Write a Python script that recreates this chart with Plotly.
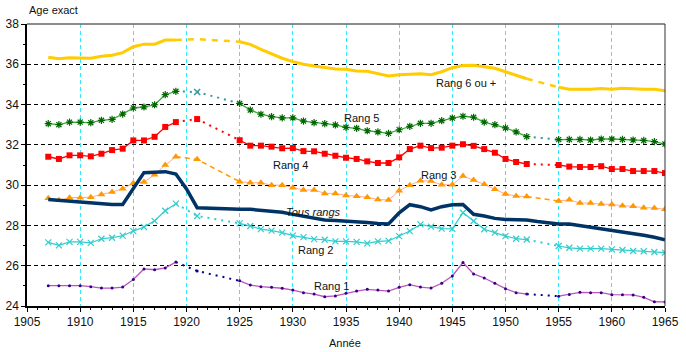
import plotly.graph_objects as go

years = list(range(1907, 1966))

rang6 = [36.35, 36.28, 36.33, 36.3, 36.3, 36.4, 36.45, 36.58, 36.87, 37.0, 37.0, 37.2, 37.2,
         None, 37.25, None, None, None,
         37.12, 36.99, 36.74, 36.5, 36.3, 36.13, 36.0, 35.91, 35.83, 35.77, 35.75, 35.67, 35.65, 35.55, 35.42,
         35.48, 35.5, 35.53, 35.48, 35.63, 35.83, 35.94, 35.95, 35.88, 35.8, 35.63, 35.47, 35.28,
         None, None,
         34.86, 34.76, 34.76, 34.76, 34.8, 34.76, 34.81, 34.78, 34.76, 34.76, 34.69]

rang5 = [33.05, 33.0, 33.13, 33.13, 33.1, 33.22, 33.27, 33.53, 33.83, 33.88, 33.99, 34.49, 34.66,
         None, 34.62, None, None, None,
         34.06, 33.73, 33.52, 33.4, 33.34, 33.34, 33.18, 33.1, 33.05, 32.99, 32.87, 32.82, 32.7, 32.64, 32.57,
         32.75, 32.92, 33.07, 33.07, 33.2, 33.33, 33.42, 33.37, 33.13, 33.0, 32.84, 32.64, 32.41,
         None, None,
         32.26, 32.27, 32.27, 32.24, 32.29, 32.29, 32.27, 32.24, 32.22, 32.16, 32.04]

rang4 = [31.41, 31.3, 31.48, 31.48, 31.43, 31.56, 31.74, 31.81, 32.22, 32.22, 32.4, 32.89, 33.13,
         None, 33.28, None, None, None,
         32.23, 31.96, 31.96, 31.91, 31.83, 31.84, 31.69, 31.68, 31.56, 31.46, 31.36, 31.3, 31.18, 31.1, 31.1,
         31.38, 31.79, 31.96, 31.84, 31.86, 31.96, 32.03, 31.95, 31.79, 31.61, 31.3, 31.15, 31.05,
         None, None,
         31.0, 30.92, 30.9, 30.9, 30.94, 30.8, 30.8, 30.7, 30.7, 30.7, 30.6]

rang3 = [29.35, 29.25, 29.38, 29.38, 29.4, 29.54, 29.66, 29.82, 30.1, 30.15, 30.52, 31.0, 31.41,
         None, 31.28, None, None, None,
         30.17, 30.12, 30.12, 30.0, 30.0, 29.87, 29.76, 29.76, 29.59, 29.59, 29.49, 29.45, 29.4, 29.29, 29.26,
         29.72, 30.0, 30.22, 30.2, 30.02, 30.02, 30.45, 30.25, 30.04, 29.79, 29.56, 29.46, 29.43,
         None, None,
         29.21, 29.27, 29.11, 29.11, 29.06, 29.04, 28.98, 28.95, 28.88, 28.87, 28.8]

tous = [29.29, 29.25, 29.21, 29.16, 29.11, 29.08, 29.04, 29.04, 29.84, 30.62, 30.64, 30.67, 30.55,
        29.81, 28.88, 28.85, 28.84, 28.83,
        28.8, 28.8, 28.75, 28.7, 28.65, 28.55, 28.47, 28.38, 28.27, 28.24, 28.22, 28.18, 28.15, 28.1, 28.07,
        28.63, 29.03, 28.93, 28.77, 28.93, 29.03, 29.04, 28.55, 28.47, 28.35, 28.3, 28.27, 28.27,
        28.19, 28.14,
        28.07, 28.07, 27.99, 27.94, 27.87, 27.77, 27.67, 27.6, 27.51, 27.41, 27.29]

rang2 = [27.16, 27.01, 27.18, 27.18, 27.13, 27.34, 27.39, 27.49, 27.72, 27.92, 28.23, 28.73, 29.08,
         None, 28.47, None, None, None,
         28.1, 27.97, 27.82, 27.74, 27.64, 27.49, 27.42, 27.32, 27.29, 27.21, 27.21, 27.18, 27.11, 27.21, 27.23,
         27.47, 27.72, 28.05, 27.94, 27.84, 27.83, 28.63, 28.22, 27.81, 27.64, 27.47, 27.34, 27.3,
         None, None,
         26.98, 26.89, 26.85, 26.85, 26.85, 26.81, 26.78, 26.73, 26.72, 26.68, 26.65]

rang1 = [25.01, 25.01, 25.01, 25.01, 24.96, 24.89, 24.89, 24.94, 25.32, 25.84, 25.8, 25.89, 26.18,
         None, 25.74, None, None, None,
         25.25, 25.04, 24.96, 24.93, 24.88, 24.79, 24.66, 24.59, 24.46, 24.5, 24.63, 24.74, 24.83, 24.79, 24.74,
         24.93, 25.06, 24.94, 24.89, 25.13, 25.49, 26.16, 25.59, 25.39, 25.13, 24.86, 24.66, 24.59,
         None, None,
         24.49, 24.57, 24.68, 24.66, 24.66, 24.56, 24.56, 24.55, 24.43, 24.21, 24.2]

# spans of years drawn with a broken line (missing data)
spans = [(1919, 1925), (1952, 1955)]

x_ticks = list(range(1905, 1966, 5))
y_ticks = list(range(24, 39, 2))

FONT = "Liberation Sans, Arial, sans-serif"


def split(vals):
    solid, inner = [], []
    for y, v in zip(years, vals):
        in_inner = any(a < y < b for a, b in spans)
        solid.append(None if in_inner else v)
        inner.append(v if in_inner else None)
    bx, by = [], []
    for a, b in spans:
        for y, v in zip(years, vals):
            if a <= y <= b and v is not None:
                bx.append(y)
                by.append(v)
        bx.append(None)
        by.append(None)
    return solid, (bx, by), inner


fig = go.Figure()


def add_series(vals, name, color, width, bcolor, bdash, bwidth, marker=None, lcolor=None, imarker=None):
    solid, (bx, by), inner = split(vals)
    fig.add_trace(go.Scatter(x=bx, y=by, mode="lines", name=name + " (gap)",
                             line=dict(color=bcolor, width=bwidth, dash=bdash),
                             connectgaps=False, showlegend=False, hoverinfo="skip"))
    if imarker is not None:
        fig.add_trace(go.Scatter(x=years, y=inner, mode="markers", marker=imarker,
                                 showlegend=False, hoverinfo="skip"))
    fig.add_trace(go.Scatter(x=years, y=solid, mode="lines+markers" if marker else "lines", name=name,
                             line=dict(color=lcolor or color, width=width),
                             marker=marker, connectgaps=False, showlegend=False))


add_series(rang6, "Rang 6 ou +", "#FFCC00", 3, "#FFCC00", "6px,6px", 2.5)
add_series(rang5, "Rang 5", "#33AA33", 1.3, "#339999", "2px,5px", 2,
           marker=dict(symbol="asterisk-open", size=6, color="#006600", line=dict(color="#117711", width=1.2)),
           imarker=dict(symbol="x-thin-open", size=6, color="#339999", line=dict(color="#339999", width=1.5)))
add_series(rang4, "Rang 4", "#FF0000", 1.3, "#FF0000", "2px,5px", 2,
           marker=dict(symbol="square", size=6, color="#FF0000"),
           imarker=dict(symbol="square", size=6, color="#FF0000"))
add_series(rang3, "Rang 3", "#FF9900", 1, "#FF9900", "5px,4px", 1.5,
           marker=dict(symbol="triangle-up", size=7, color="#FF9900"), lcolor="#FFAA99",
           imarker=dict(symbol="triangle-up", size=7, color="#FF9900"))
fig.add_trace(go.Scatter(x=years, y=tous, mode="lines", name="Tous rangs",
                         line=dict(color="#003366", width=3.5), showlegend=False))
add_series(rang2, "Rang 2", "#33CCCC", 1.2, "#33CCCC", "2px,5px", 2,
           marker=dict(symbol="x-thin-open", size=6, color="#33CCCC", line=dict(color="#33CCCC", width=1.2)),
           imarker=dict(symbol="x-thin-open", size=6, color="#33CCCC", line=dict(color="#33CCCC", width=1.2)))
add_series(rang1, "Rang 1", "#BB55BB", 1.3, "#000099", "2px,5px", 2,
           marker=dict(symbol="circle", size=3, color="#330088"),
           imarker=dict(symbol="circle", size=3, color="#000099"))

labels = [
    ("Rang 6 ou +", 1946.3, 35.07, False),
    ("Rang 5", 1936.5, 33.33, False),
    ("Rang 4", 1929.8, 31.0, False),
    ("Rang 3", 1943.7, 30.5, False),
    ("Tous rangs", 1931.9, 28.67, True),
    ("Rang 2", 1932.1, 26.78, False),
    ("Rang 1", 1933.6, 24.99, False),
]
for txt, lx, ly, it in labels:
    fig.add_annotation(x=lx, y=ly, text=f"<i>{txt}</i>" if it else txt, showarrow=False,
                       font=dict(family=FONT, size=11, color="#111111"), xanchor="center", yanchor="middle")

fig.add_annotation(xref="paper", yref="paper", x=0.0, y=1 + 14 / 282, text="Age exact", showarrow=False,
                   font=dict(family=FONT, size=11, color="#111111"), xanchor="left", yanchor="middle")
fig.add_annotation(xref="paper", yref="paper", x=(345 - 27) / 638, y=-37 / 282, text="Année", showarrow=False,
                   font=dict(family=FONT, size=11, color="#111111"), xanchor="center", yanchor="middle")

# top and right border
fig.add_shape(type="line", xref="paper", yref="paper", x0=0, x1=1, y0=1, y1=1,
              line=dict(color="#666666", width=1.5))
fig.add_shape(type="line", xref="paper", yref="paper", x0=1, x1=1, y0=0, y1=1,
              line=dict(color="#333333", width=1))

fig.update_layout(
    width=686, height=352,
    margin=dict(l=27, r=21, t=24, b=46),
    paper_bgcolor="white", plot_bgcolor="white",
    font=dict(family=FONT, size=12, color="#111111"),
    showlegend=False,
    xaxis=dict(range=[1905, 1965], tickmode="array", tickvals=x_ticks, ticktext=[str(v) for v in x_ticks],
               showline=True, linecolor="black", linewidth=1.5, ticks="outside", ticklen=4,
               tickcolor="black", showgrid=True, gridcolor="#33E8F8", griddash="4px,3px", gridwidth=1,
               zeroline=False, tickfont=dict(size=12), automargin=False,
               minor=dict(dtick=1, tick0=1905, ticks="outside", ticklen=2, tickcolor="black", showgrid=False)),
    yaxis=dict(range=[24, 38], tickmode="array", tickvals=y_ticks, ticktext=[str(v) for v in y_ticks],
               showline=True, linecolor="black", linewidth=1.5, ticks="outside", ticklen=4,
               tickcolor="black", showgrid=True, gridcolor="black", griddash="4px,3px", gridwidth=1,
               zeroline=False, tickfont=dict(size=12), automargin=False,
               minor=dict(dtick=1, tick0=24, ticks="outside", ticklen=2, tickcolor="black", showgrid=False)),
)

fig.write_html("out.html")
